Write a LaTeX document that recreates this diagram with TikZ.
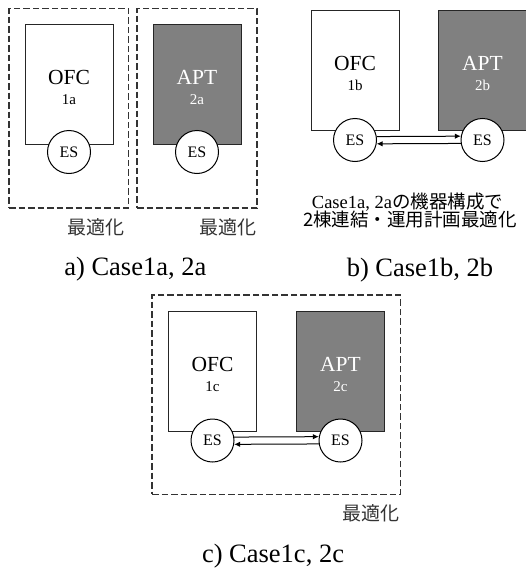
\documentclass[tikz,border=0pt]{standalone}
\usepackage{fontspec}
\setmainfont{Liberation Serif}
\newfontfamily\cjk{Noto Sans CJK JP}
\usetikzlibrary{arrows.meta}
\tikzset{
  optbox/.style={draw=black!80, line width=1.1pt, dash pattern=on 6.5pt off 3pt, inner sep=0, outer sep=0, anchor=north west},
  bldg/.style={draw=black!85, line width=1pt, minimum width=88pt, minimum height=120pt, inner sep=0, outer sep=0, anchor=north west},
  ofcfill/.style={fill=white},
  aptfill/.style={fill=black!50},
  es/.style={circle, draw=black, line width=1pt, fill=white, minimum size=43pt, inner sep=0, font=\fontsize{16}{16}\selectfont},
  bigname/.style={anchor=base, inner sep=0, font=\fontsize{21.5}{21.5}\selectfont},
  subname/.style={anchor=base, inner sep=0, font=\fontsize{15}{15}\selectfont},
  opt/.style={inner sep=0, text=black!80, font=\cjk\fontsize{19}{19}\selectfont},
  caption/.style={anchor=base, inner sep=0, font=\fontsize{26.5}{26.5}\selectfont},
  note/.style={inner sep=0, font=\fontsize{18.5}{18.5}\selectfont},
  arr/.style={line width=1pt, -{Latex[length=6pt,width=5.5pt]}}
}
\begin{document}
\begin{tikzpicture}[x=1pt,y=-1pt]
\useasboundingbox (0,0) rectangle (525,570);

% ---------- a) ----------
\node[optbox, minimum width=119.5pt, minimum height=199.5pt] (boxa1) at (9,8.5) {};
\node[optbox, minimum width=120pt, minimum height=199.5pt] (boxa2) at (137,8.5) {};
\node[bldg, ofcfill] (ofca) at (25,24) {};
\node[bldg, aptfill] (apta) at (153,24) {};
\node[bigname] (ofcaT) at (69,84) {OFC};
\node[subname] (ofcaS) at (69,104) {1a};
\node[bigname, text=white] (aptaT) at (197,84) {APT};
\node[subname, text=white] (aptaS) at (197,104) {2a};
\node[es] (esa1) at (69,152) {ES};
\node[es] (esa2) at (197,152) {ES};
\node[opt] (opta1) at (95.5,227) {最適化};
\node[opt] (opta2) at (227.5,227) {最適化};
\node[caption] (capa) at (135.3,275.3) {a) Case1a, 2a};

% ---------- b) ----------
\node[bldg, ofcfill] (ofcb) at (311,10) {};
\node[bldg, aptfill] (aptb) at (438.5,10) {};
\node[bigname] (ofcbT) at (355,70) {OFC};
\node[subname] (ofcbS) at (355,90) {1b};
\node[bigname, text=white] (aptbT) at (482.5,70) {APT};
\node[subname, text=white] (aptbS) at (482.5,90) {2b};
\node[es] (esb1) at (355,140) {ES};
\node[es] (esb2) at (482.5,140) {ES};
\draw[arr] (esb1.9.4) -- (esb2.170.6);
\draw[arr] (esb2.189.4) -- (esb1.350.6);
\node[note] (noteb1) at (407.5,201.7) {Case1a, 2a{\cjk の機器構成で}};
\node[note] (noteb2) at (410,220) {\cjk 2棟連結・運用計画最適化};
\node[caption] (capb) at (420,276.5) {b) Case1b, 2b};

% ---------- c) ----------
\node[optbox, minimum width=248.5pt, minimum height=199.3pt] (boxc) at (152,295) {};
\node[bldg, ofcfill] (ofcc) at (168.5,311) {};
\node[bldg, aptfill] (aptc) at (296.5,311) {};
\node[bigname] (ofccT) at (212.5,371) {OFC};
\node[subname] (ofccS) at (212.5,391) {1c};
\node[bigname, text=white] (aptcT) at (340.5,371) {APT};
\node[subname, text=white] (aptcS) at (340.5,391) {2c};
\node[es] (esc1) at (212.5,440.5) {ES};
\node[es] (esc2) at (340.5,440.5) {ES};
\draw[arr] (esc1.9.4) -- (esc2.170.6);
\draw[arr] (esc2.189.4) -- (esc1.350.6);
\node[opt] (optc) at (370.5,513) {最適化};
\node[caption] (capc) at (273,562) {c) Case1c, 2c};
\end{tikzpicture}
\end{document}
